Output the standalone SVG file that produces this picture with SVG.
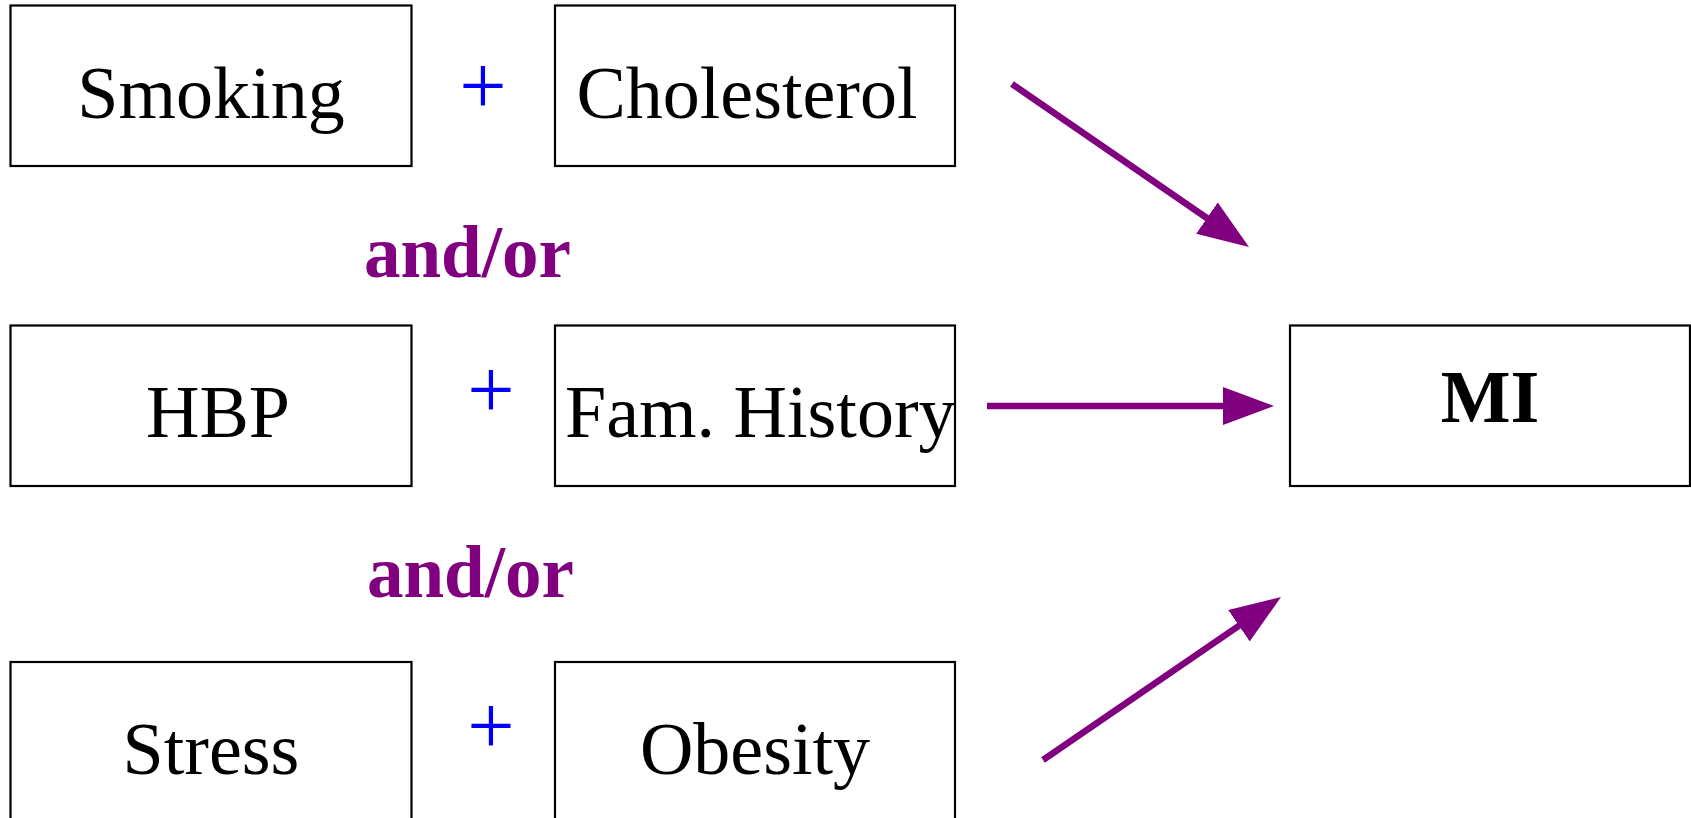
<svg xmlns="http://www.w3.org/2000/svg" width="1691" height="818" viewBox="0 0 1691 818">
<style>
.box{fill:#fff;stroke:#000;stroke-width:2.2}
.lbl{font-family:"Liberation Serif","Times New Roman",serif;font-size:74px;fill:#000}
.plus{font-family:"Liberation Serif","Times New Roman",serif;font-size:84px;fill:#0000ff;text-anchor:middle}
.andor{font-family:"Liberation Serif","Times New Roman",serif;font-size:73px;font-weight:bold;fill:#800080}
.arr{stroke:#800080;stroke-width:6.5;fill:none;marker-end:url(#ah)}
</style>
<defs>
<marker id="ah" viewBox="0 0 51 38" markerWidth="51" markerHeight="38" refX="6" refY="19" markerUnits="userSpaceOnUse" orient="auto">
<path d="M0,0 L51,19 L0,38 z" fill="#800080"/>
</marker>
</defs>
<rect width="1691" height="818" fill="#fff"/>
<g id="smoking"><rect class="box" x="10.5" y="5.5" width="401" height="160.5"/><text class="lbl" x="211" y="118" text-anchor="middle">Smoking</text></g>
<g id="cholesterol"><rect class="box" x="555" y="5.5" width="400" height="160.5"/><text class="lbl" x="747" y="118" text-anchor="middle">Cholesterol</text></g>
<g id="hbp"><rect class="box" x="10.5" y="325.5" width="401" height="160.5"/><text class="lbl" x="218" y="437" text-anchor="middle">HBP</text></g>
<g id="famhistory"><rect class="box" x="555" y="325.5" width="400" height="160.5"/><text class="lbl" x="565" y="437">Fam. History</text></g>
<g id="stress"><rect class="box" x="10.5" y="662" width="401" height="180"/><text class="lbl" x="211" y="774" text-anchor="middle">Stress</text></g>
<g id="obesity"><rect class="box" x="555" y="662" width="400" height="180"/><text class="lbl" x="755" y="774" text-anchor="middle">Obesity</text></g>
<g id="mi"><rect class="box" x="1290" y="325.5" width="400" height="160.5"/><text class="lbl" x="1490" y="422" text-anchor="middle" font-weight="bold">MI</text></g>
<g id="operators">
<text class="plus" x="483" y="114">+</text>
<text class="plus" x="491" y="418">+</text>
<text class="plus" x="491" y="754">+</text>
<text class="andor" x="364" y="277">and/or</text>
<text class="andor" x="367" y="597">and/or</text>
</g>
<g id="connectors">
<line class="arr" x1="1012" y1="84" x2="1211.9" y2="221.5"/>
<line class="arr" x1="987" y1="406" x2="1229" y2="406"/>
<line class="arr" x1="1043" y1="760" x2="1243.9" y2="622.4"/>
</g>
</svg>
